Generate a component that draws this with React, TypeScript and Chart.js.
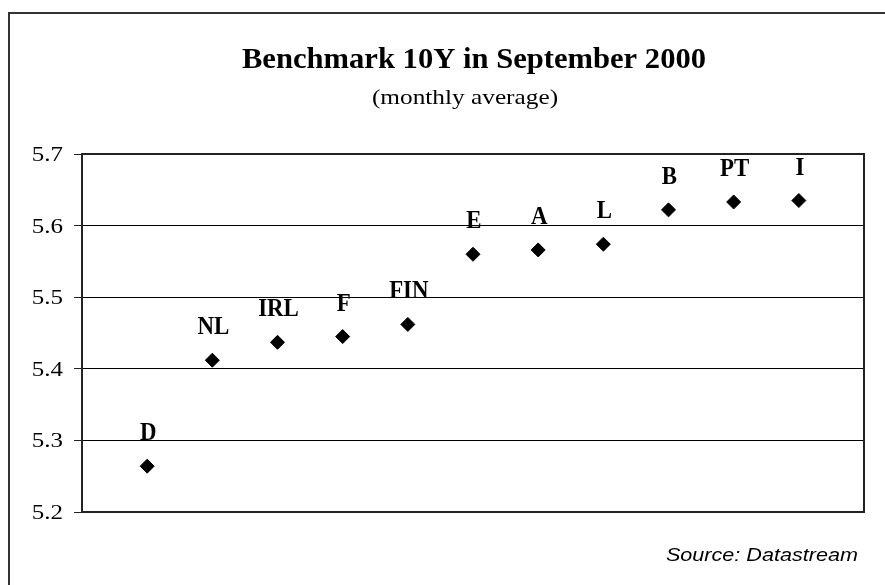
import React, { useEffect, useRef } from "react";
import { Chart, registerables } from "chart.js";

Chart.register(...registerables);

// ---- data ----
const countries = ["D", "NL", "IRL", "F", "FIN", "E", "A", "L", "B", "PT", "I"];
const yields = [5.264, 5.412, 5.437, 5.445, 5.462, 5.56, 5.566, 5.574, 5.622, 5.633, 5.635];
const yTicks = [5.2, 5.3, 5.4, 5.5, 5.6, 5.7];
const titleText = "Benchmark 10Y in September 2000";
const subtitleText = "(monthly average)";
const sourceText = "Source: Datastream";

const SERIF = '"Liberation Serif", "Times New Roman", serif';
const SANS = '"Liberation Sans", Arial, sans-serif';

function drawText(
  ctx: CanvasRenderingContext2D,
  text: string,
  x: number,
  y: number,
  font: string,
  align: CanvasTextAlign,
  sx = 1,
  baseline: CanvasTextBaseline = "alphabetic"
) {
  ctx.save();
  ctx.font = font;
  ctx.fillStyle = "#000";
  ctx.textAlign = align;
  ctx.textBaseline = baseline;
  ctx.translate(x, y);
  ctx.scale(sx, 1);
  ctx.fillText(text, 0, 0);
  ctx.restore();
}

const decorPlugin = {
  id: "decor",
  beforeDraw(chart: any) {
    const ctx = chart.ctx as CanvasRenderingContext2D;
    ctx.save();
    ctx.fillStyle = "#fff";
    ctx.fillRect(0, 0, chart.width, chart.height);
    // outer frame (extends beyond the picture on right / bottom)
    ctx.strokeStyle = "#333";
    ctx.lineWidth = 2;
    ctx.strokeRect(9, 13, 1000, 1000);
    ctx.restore();
  },
  afterDatasetsDraw(chart: any) {
    const ctx = chart.ctx as CanvasRenderingContext2D;
    const { chartArea } = chart;
    const cx = (chartArea.left + chartArea.right) / 2;
    // plot border
    ctx.save();
    ctx.strokeStyle = "#222";
    ctx.lineWidth = 2;
    ctx.strokeRect(chartArea.left, chartArea.top, chartArea.right - chartArea.left, chartArea.bottom - chartArea.top);
    ctx.restore();

    // titles
    drawText(ctx, titleText, cx + 1, 68, `bold 30px ${SERIF}`, "center", 1.02);
    drawText(ctx, subtitleText, cx - 8, 104, `22px ${SERIF}`, "center", 1.15);

    // y tick labels
    const yScale = chart.scales.y;
    yTicks.forEach((v) => {
      const py = yScale.getPixelForValue(v);
      drawText(ctx, v.toFixed(1), chartArea.left - 19, py + 7, `20px ${SERIF}`, "right", 1.25);
    });

    // point labels
    const meta = chart.getDatasetMeta(0);
    meta.data.forEach((pt: any, i: number) => {
      drawText(ctx, countries[i], pt.x + 1, pt.y - 26, `bold 26px ${SERIF}`, "center", 0.88);
    });

    // source
    drawText(ctx, sourceText, 858, 561, `italic 18px ${SANS}`, "right", 1.2);
  },
};

export default function App() {
  const ref = useRef<HTMLCanvasElement | null>(null);
  useEffect(() => {
    if (!ref.current) return;
    const chart = new Chart(ref.current, {
      type: "scatter",
      data: {
        datasets: [
          {
            label: "Benchmark 10Y",
            data: countries.map((c, i) => ({ x: i + 1, y: yields[i] })),
            pointStyle: "rectRot",
            pointRadius: 7,
            pointHoverRadius: 7,
            backgroundColor: "#000",
            borderColor: "#000",
            borderWidth: 1,
          },
        ],
      },
      options: {
        animation: false,
        responsive: false,
        events: [],
        layout: { padding: { left: 0, top: 154, right: 21, bottom: 73 } },
        plugins: {
          legend: { display: false },
          title: { display: false },
          tooltip: { enabled: false },
        },
        scales: {
          x: {
            type: "linear",
            min: 0,
            max: countries.length + 1,
            display: false,
          },
          y: {
            type: "linear",
            min: yTicks[0],
            max: yTicks[yTicks.length - 1],
            ticks: { stepSize: 0.1, display: false },
            grid: { color: "#000", lineWidth: 1, drawTicks: true, tickLength: 8, tickColor: "#222" },
            border: { display: false },
            afterFit: (scale: any) => {
              scale.width = 82;
            },
          },
        },
      },
      plugins: [decorPlugin],
    });
    return () => chart.destroy();
  }, []);
  return (
    <div style={{ position: "fixed", left: 0, top: 0, width: 885, height: 585, background: "#fff" }}>
      <canvas ref={ref} width={885} height={585} style={{ display: "block" }} />
    </div>
  );
}
